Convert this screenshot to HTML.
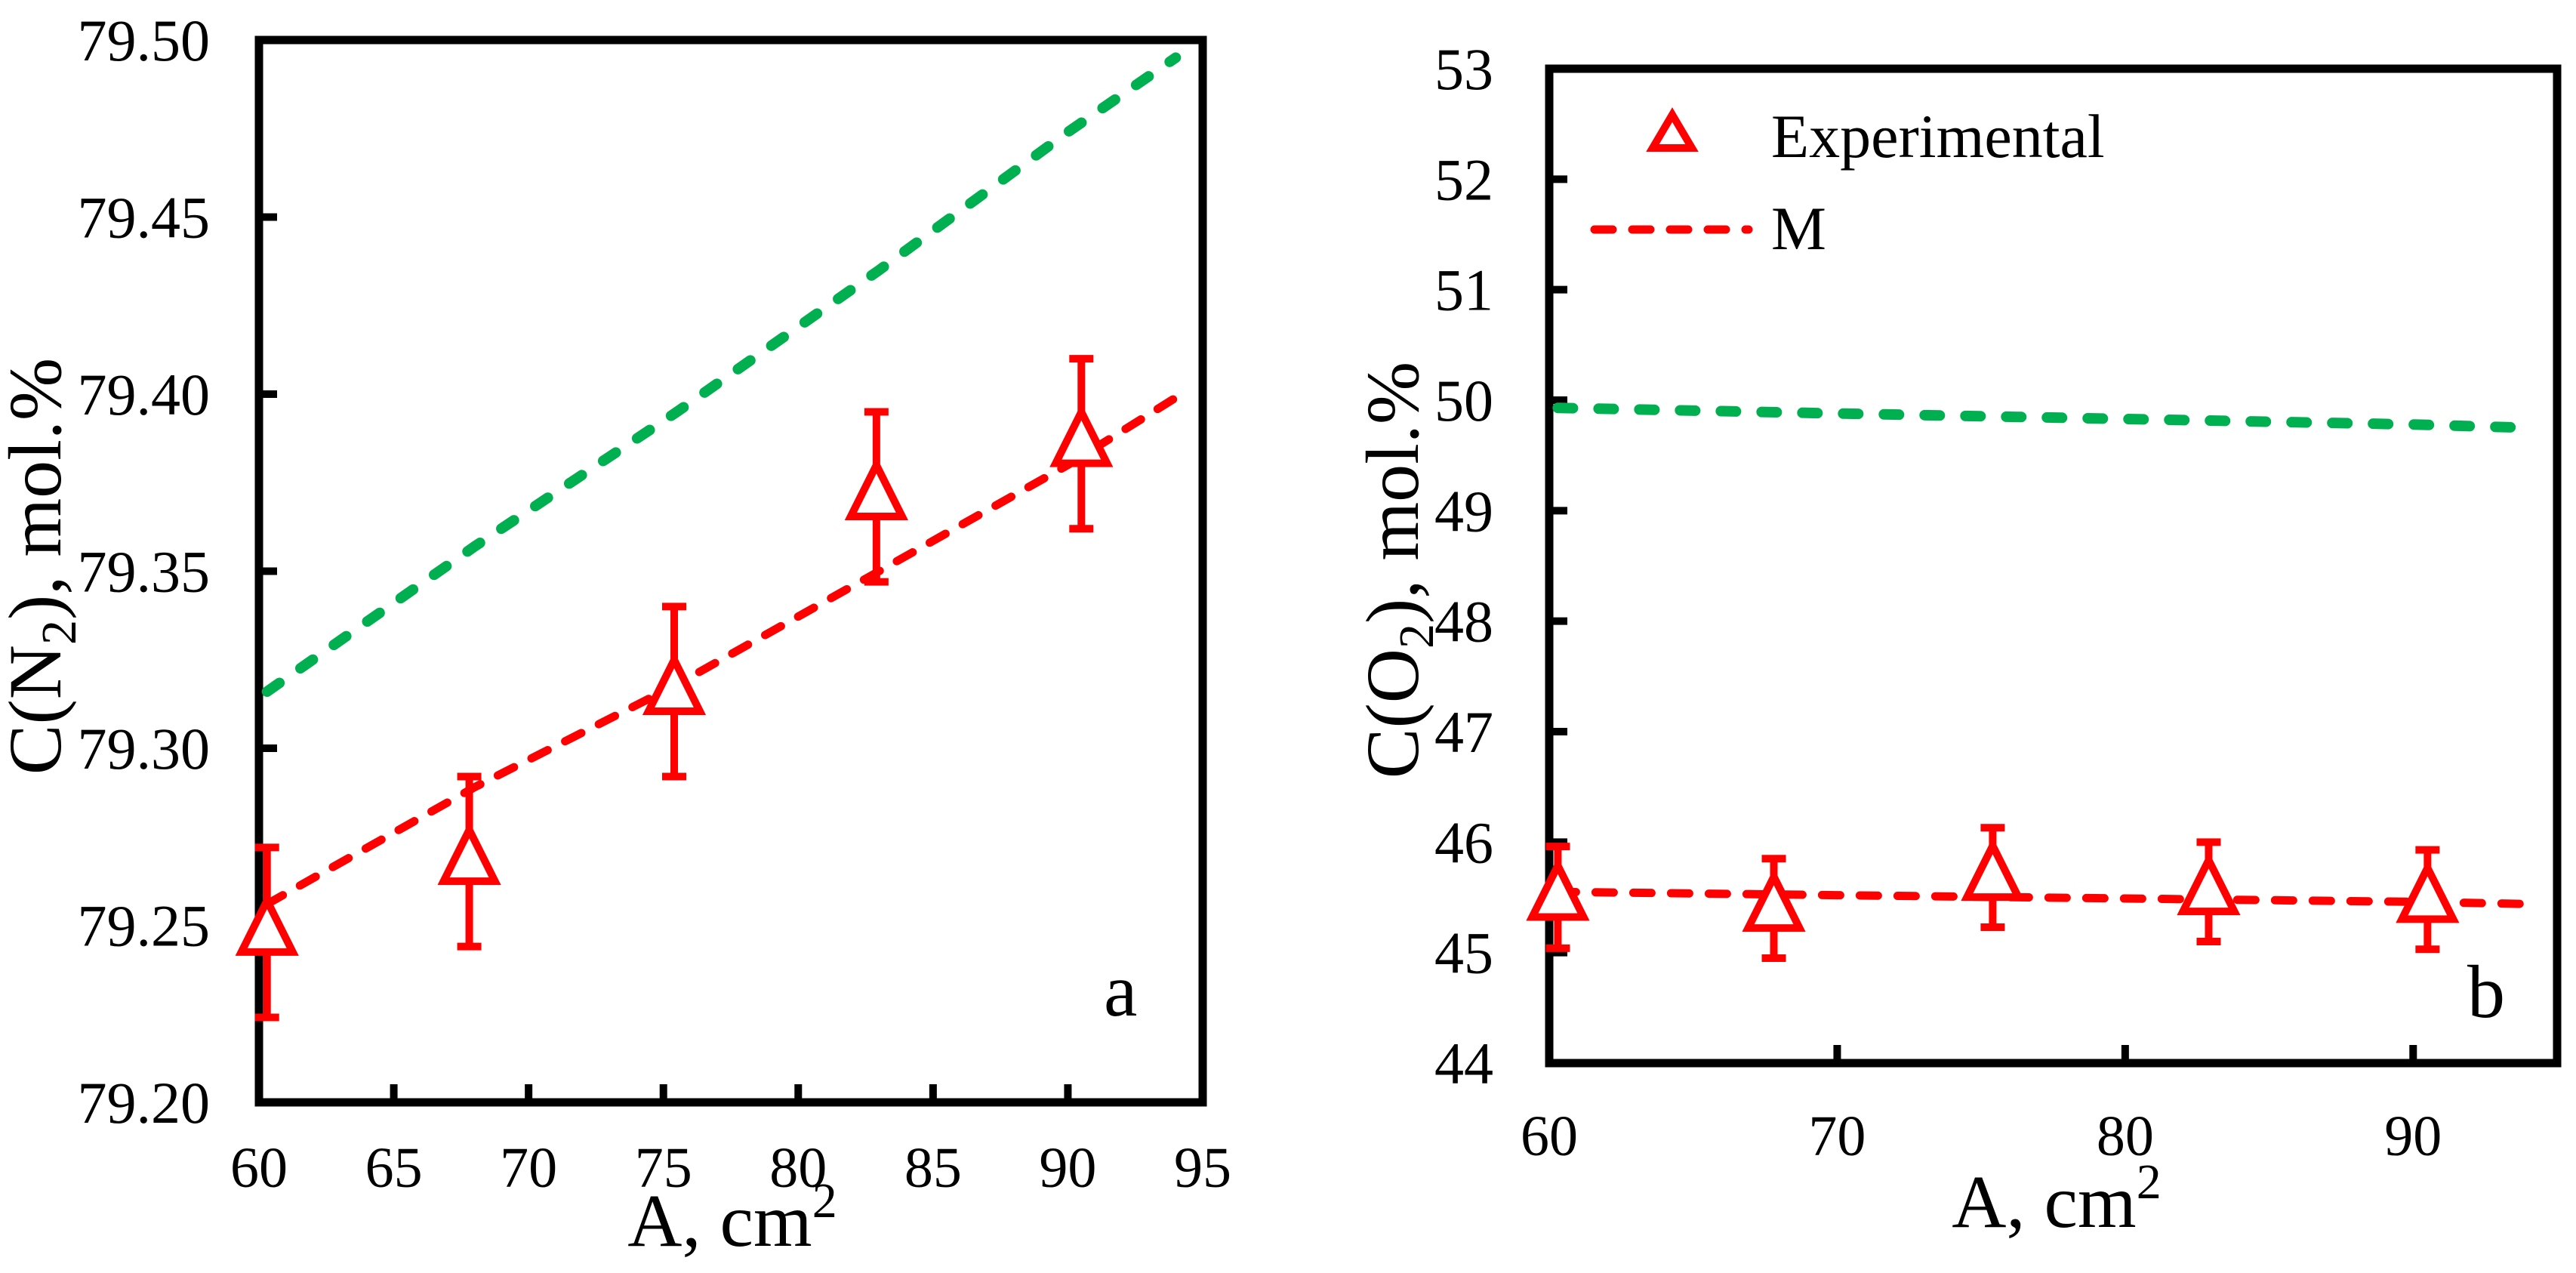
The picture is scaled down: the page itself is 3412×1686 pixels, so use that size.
<!DOCTYPE html>
<html><head><meta charset="utf-8"><style>
html,body{margin:0;padding:0;background:#fff;}
svg{display:block;}
svg text{font-family:"Liberation Serif","Times New Roman",serif !important;}
</style></head><body>
<svg id="c" width="3412" height="1686" viewBox="0 0 3412 1686" xmlns="http://www.w3.org/2000/svg" font-family="Liberation Serif, serif">
<g id="pa"></g>
<g id="pb"></g>
</svg>
<script>
// Panel a data
const aX = [60.3, 67.8, 75.4, 82.9, 90.5];
const aY = [79.248, 79.268, 79.316, 79.371, 79.386];
const aErr = [0.024, 0.024, 0.024, 0.024, 0.024];
const aModelX = [60.3, 68, 75.5, 83, 90, 94];
const aModelRed = [79.256, 79.289, 79.318, 79.350, 79.380, 79.399];
const aModelGreen = [79.316, 79.357, 79.395, 79.435, 79.474, 79.495];
const aXTicks = [60, 65, 70, 75, 80, 85, 90, 95];
const aYTicks = ["79.20", "79.25", "79.30", "79.35", "79.40", "79.45", "79.50"];
// Panel b data
const bX = [60.3, 67.8, 75.4, 82.9, 90.5];
const bY = [45.50, 45.40, 45.68, 45.55, 45.48];
const bErr = [0.46, 0.45, 0.45, 0.45, 0.45];
const bModelX = [60.3, 70, 80, 90, 94];
const bModelRed = [45.55, 45.52, 45.49, 45.46, 45.44];
const bModelGreen = [49.93, 49.88, 49.83, 49.78, 49.75];
const bXTicks = [60, 70, 80, 90];
const bYTicks = ["44", "45", "46", "47", "48", "49", "50", "51", "52", "53"];

const NS = "http://www.w3.org/2000/svg";
function mk(parent, tag, attrs, text) {
  const e = document.createElementNS(NS, tag);
  for (const k in attrs) e.setAttribute(k, attrs[k]);
  if (tag === "text") {
    e.setAttribute("font-family", "Liberation Serif, serif");
    e.setAttribute("style", "font-family:'Liberation Serif',serif");
  }
  if (text !== undefined) e.textContent = text;
  parent.appendChild(e);
  return e;
}

function panel(g, cfg) {
  const sx = v => cfg.x0 + (v - cfg.xmin) / (cfg.xmax - cfg.xmin) * (cfg.x1 - cfg.x0);
  const sy = v => cfg.y0 - (v - cfg.ymin) / (cfg.ymax - cfg.ymin) * (cfg.y0 - cfg.y1);
  cfg.xTicks.forEach(t => {
    const tk = mk(g, "line", {x1: sx(t), x2: sx(t), y1: cfg.y0, y2: cfg.y0 - 24, stroke: "#000", "stroke-width": 10});
    
    
    const lb = mk(g, "text", {x: sx(t), y: cfg.xLabY, "font-size": 76, "text-anchor": "middle"}, String(t));
    
    
  });
  cfg.yTicks.forEach(t => {
    const v = parseFloat(t);
    const tk = mk(g, "line", {x1: cfg.x0, x2: cfg.x0 + 24, y1: sy(v), y2: sy(v), stroke: "#000", "stroke-width": 10});
    
    
    const lb = mk(g, "text", {x: cfg.yLabX, y: sy(v) + 27, "font-size": 78, "text-anchor": "end"}, t);
    
    
  });
  const fr = mk(g, "rect", {x: cfg.x0, y: cfg.y1, width: cfg.x1 - cfg.x0, height: cfg.y0 - cfg.y1, fill: "none", stroke: "#000", "stroke-width": 11});
  
  
  const pts = (xs, ys) => xs.map((x, i) => sx(x).toFixed(1) + "," + sy(ys[i]).toFixed(1)).join(" ");
  const gl = mk(g, "polyline", {points: pts(cfg.mX, cfg.mG), fill: "none", stroke: "#00b050", "stroke-width": 14, "stroke-dasharray": "20 34", "stroke-linecap": "round"});
  
  
  const rl = mk(g, "polyline", {points: pts(cfg.mX, cfg.mR), fill: "none", stroke: "#ff0000", "stroke-width": 11, "stroke-dasharray": "24 26", "stroke-linecap": "round"});
  
  
  cfg.px.forEach((x, i) => {
    const cx = sx(x), cy = sy(cfg.py[i]);
    const top = sy(cfg.py[i] + cfg.pe[i]), bot = sy(cfg.py[i] - cfg.pe[i]);
    const eb = mk(g, "path", {d: `M${cx},${top}V${bot}M${cx-16},${top}H${cx+16}M${cx-16},${bot}H${cx+16}`, stroke: "#ff0000", "stroke-width": 10, fill: "none"});
    
    
    const tr = mk(g, "path", {d: `M${cx},${cy-42}L${cx+34},${cy+26}H${cx-34}Z`, stroke: "#ff0000", "stroke-width": 10, fill: "#fff", "stroke-linejoin": "miter"});
    
    
  });
}

const pa = document.getElementById("pa");
panel(pa, {x0: 343, x1: 1593, y0: 1460, y1: 53, xmin: 60, xmax: 95, ymin: 79.20, ymax: 79.50,
  xTicks: aXTicks, yTicks: aYTicks, xLabY: 1572, yLabX: 278,
  mX: aModelX, mR: aModelRed, mG: aModelGreen, px: aX, py: aY, pe: aErr});
const pb = document.getElementById("pb");
panel(pb, {x0: 2052, x1: 3387, y0: 1408, y1: 91, xmin: 60, xmax: 95, ymin: 44, ymax: 53,
  xTicks: bXTicks, yTicks: bYTicks, xLabY: 1530, yLabX: 1978,
  mX: bModelX, mR: bModelRed, mG: bModelGreen, px: bX, py: bY, pe: bErr});

let t;
t = mk(pa, "text", {x: 970, y: 1650, "font-size": 100, "text-anchor": "middle"});
t.innerHTML = 'A, cm<tspan dy="-38" font-size="66">2</tspan>';


t = mk(pa, "text", {x: 0, y: 0, "font-size": 100, "text-anchor": "middle", transform: "translate(80,750) rotate(-90)"});
t.innerHTML = 'C(N<tspan dy="20" font-size="66">2</tspan><tspan dy="-20">), mol.%</tspan>';


t = mk(pa, "text", {x: 1462, y: 1345, "font-size": 100}, "a");



t = mk(pb, "text", {x: 2724, y: 1625, "font-size": 100, "text-anchor": "middle"});
t.innerHTML = 'A, cm<tspan dy="-38" font-size="66">2</tspan>';


t = mk(pb, "text", {x: 0, y: 0, "font-size": 100, "text-anchor": "middle", transform: "translate(1878,755) rotate(-90)"});
t.innerHTML = 'C(O<tspan dy="20" font-size="66">2</tspan><tspan dy="-20">), mol.%</tspan>';


t = mk(pb, "text", {x: 3268, y: 1347, "font-size": 100}, "b");



const lg = mk(pb, "g", {});


t = mk(lg, "path", {d: "M2215,152L2241,196H2189Z", stroke: "#ff0000", "stroke-width": 10, fill: "#fff"});


t = mk(lg, "text", {x: 2346, y: 208, "font-size": 82}, "Experimental");


t = mk(lg, "line", {x1: 2112, x2: 2316, y1: 304, y2: 304, stroke: "#ff0000", "stroke-width": 11, "stroke-dasharray": "24 26", "stroke-linecap": "round"});


t = mk(lg, "text", {x: 2346, y: 330, "font-size": 82}, "M");


</script>
</body></html>
